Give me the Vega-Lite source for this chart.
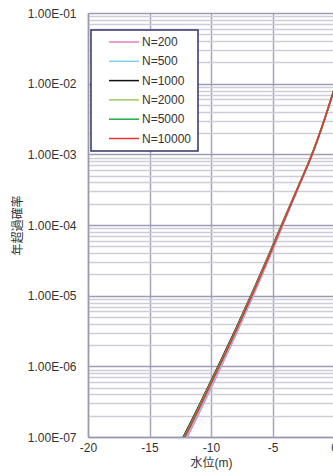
{
  "$schema": "https://vega.github.io/schema/vega-lite/v6.json",
  "width": 246,
  "height": 424,
  "autosize": {"type": "none"},
  "padding": {"left": 88, "top": 13, "right": 0, "bottom": 37},
  "config": {
    "font": "Liberation Sans, Noto Sans CJK JP",
    "view": {"stroke": null},
    "axis": {"labelFont": "Liberation Sans", "labelFontSize": 12, "labelColor": "#333333", "titleFont": "Liberation Sans, Noto Sans CJK JP", "titleFontSize": 12, "titleFontWeight": "normal", "titleColor": "#333333", "domainColor": "#9a9ab2", "domainWidth": 1.5}
  },
  "data": {
    "values": [
      {"N": "N=200", "x": -12.21, "p": 7.94e-8}, {"N": "N=200", "x": -11.92, "p": 1e-7}, {"N": "N=200", "x": -10.52, "p": 3.16e-7}, {"N": "N=200", "x": -9.16, "p": 1e-6}, {"N": "N=200", "x": -7.83, "p": 3.16e-6}, {"N": "N=200", "x": -6.56, "p": 1e-5}, {"N": "N=200", "x": -5.33, "p": 3.16e-5}, {"N": "N=200", "x": -4.15, "p": 1e-4}, {"N": "N=200", "x": -2.95, "p": 3.16e-4}, {"N": "N=200", "x": -1.75, "p": 1e-3}, {"N": "N=200", "x": -0.74, "p": 3.16e-3}, {"N": "N=200", "x": 0.16, "p": 1e-2},
      {"N": "N=500", "x": -12.29, "p": 7.94e-8}, {"N": "N=500", "x": -12.0, "p": 1e-7}, {"N": "N=500", "x": -10.59, "p": 3.16e-7}, {"N": "N=500", "x": -9.22, "p": 1e-6}, {"N": "N=500", "x": -7.89, "p": 3.16e-6}, {"N": "N=500", "x": -6.61, "p": 1e-5}, {"N": "N=500", "x": -5.38, "p": 3.16e-5}, {"N": "N=500", "x": -4.18, "p": 1e-4}, {"N": "N=500", "x": -2.97, "p": 3.16e-4}, {"N": "N=500", "x": -1.76, "p": 1e-3}, {"N": "N=500", "x": -0.75, "p": 3.16e-3}, {"N": "N=500", "x": 0.15, "p": 1e-2},
      {"N": "N=1000", "x": -12.57, "p": 7.94e-8}, {"N": "N=1000", "x": -12.26, "p": 1e-7}, {"N": "N=1000", "x": -10.82, "p": 3.16e-7}, {"N": "N=1000", "x": -9.43, "p": 1e-6}, {"N": "N=1000", "x": -8.07, "p": 3.16e-6}, {"N": "N=1000", "x": -6.76, "p": 1e-5}, {"N": "N=1000", "x": -5.5, "p": 3.16e-5}, {"N": "N=1000", "x": -4.27, "p": 1e-4}, {"N": "N=1000", "x": -3.03, "p": 3.16e-4}, {"N": "N=1000", "x": -1.8, "p": 1e-3}, {"N": "N=1000", "x": -0.77, "p": 3.16e-3}, {"N": "N=1000", "x": 0.15, "p": 1e-2},
      {"N": "N=2000", "x": -12.51, "p": 7.94e-8}, {"N": "N=2000", "x": -12.2, "p": 1e-7}, {"N": "N=2000", "x": -10.77, "p": 3.16e-7}, {"N": "N=2000", "x": -9.38, "p": 1e-6}, {"N": "N=2000", "x": -8.02, "p": 3.16e-6}, {"N": "N=2000", "x": -6.73, "p": 1e-5}, {"N": "N=2000", "x": -5.47, "p": 3.16e-5}, {"N": "N=2000", "x": -4.25, "p": 1e-4}, {"N": "N=2000", "x": -3.02, "p": 3.16e-4}, {"N": "N=2000", "x": -1.79, "p": 1e-3}, {"N": "N=2000", "x": -0.76, "p": 3.16e-3}, {"N": "N=2000", "x": 0.15, "p": 1e-2},
      {"N": "N=5000", "x": -12.46, "p": 7.94e-8}, {"N": "N=5000", "x": -12.16, "p": 1e-7}, {"N": "N=5000", "x": -10.73, "p": 3.16e-7}, {"N": "N=5000", "x": -9.35, "p": 1e-6}, {"N": "N=5000", "x": -7.99, "p": 3.16e-6}, {"N": "N=5000", "x": -6.7, "p": 1e-5}, {"N": "N=5000", "x": -5.44, "p": 3.16e-5}, {"N": "N=5000", "x": -4.23, "p": 1e-4}, {"N": "N=5000", "x": -3.0, "p": 3.16e-4}, {"N": "N=5000", "x": -1.78, "p": 1e-3}, {"N": "N=5000", "x": -0.76, "p": 3.16e-3}, {"N": "N=5000", "x": 0.15, "p": 1e-2},
      {"N": "N=10000", "x": -12.42, "p": 7.94e-8}, {"N": "N=10000", "x": -12.12, "p": 1e-7}, {"N": "N=10000", "x": -10.7, "p": 3.16e-7}, {"N": "N=10000", "x": -9.32, "p": 1e-6}, {"N": "N=10000", "x": -7.97, "p": 3.16e-6}, {"N": "N=10000", "x": -6.68, "p": 1e-5}, {"N": "N=10000", "x": -5.43, "p": 3.16e-5}, {"N": "N=10000", "x": -4.22, "p": 1e-4}, {"N": "N=10000", "x": -3.0, "p": 3.16e-4}, {"N": "N=10000", "x": -1.78, "p": 1e-3}, {"N": "N=10000", "x": -0.76, "p": 3.16e-3}, {"N": "N=10000", "x": 0.15, "p": 1e-2}
    ]
  },
  "mark": {"type": "line", "strokeWidth": 1.5, "clip": true, "interpolate": "monotone"},
  "encoding": {
    "x": {
      "field": "x", "type": "quantitative",
      "scale": {"domain": [-20, 0], "nice": false, "zero": false},
      "axis": {"title": "水位(m)", "values": [-20, -15, -10, -5, 0], "labelExpr": "'' + datum.value", "grid": true, "gridColor": "#a4a4bc", "gridWidth": 1.5, "ticks": false, "labelPadding": 5, "titlePadding": 4, "labelFlush": false}
    },
    "y": {
      "field": "p", "type": "quantitative",
      "scale": {"type": "log", "domain": [1e-7, 0.1], "nice": false},
      "axis": {
        "title": "年超過確率",
        "values": [1e-7, 2e-7, 3e-7, 4e-7, 5e-7, 6e-7, 7e-7, 8e-7, 9e-7, 1e-6, 2e-6, 3e-6, 4e-6, 5e-6, 6e-6, 7e-6, 8e-6, 9e-6, 1e-5, 2e-5, 3e-5, 4e-5, 5e-5, 6e-5, 7e-5, 8e-5, 9e-5, 1e-4, 2e-4, 3e-4, 4e-4, 5e-4, 6e-4, 7e-4, 8e-4, 9e-4, 1e-3, 2e-3, 3e-3, 4e-3, 5e-3, 6e-3, 7e-3, 8e-3, 9e-3, 1e-2, 2e-2, 3e-2, 4e-2, 5e-2, 6e-2, 7e-2, 8e-2, 9e-2, 1e-1],
        "labelExpr": "abs(log(datum.value)/LN10 - round(log(datum.value)/LN10)) < 0.001 ? '1.00E-0' + round(-log(datum.value)/LN10) : ''",
        "labelOverlap": false,
        "labelBound": false,
        "ticks": false,
        "labelPadding": 12,
        "titlePadding": 3,
        "grid": true,
        "gridWidth": 1.5,
        "gridColor": {"condition": {"test": "abs(log(datum.value)/LN10 - round(log(datum.value)/LN10)) < 0.001", "value": "#9c9cb4"}, "value": "#cdcdda"}
      }
    },
    "color": {
      "field": "N", "type": "nominal",
      "scale": {"domain": ["N=200", "N=500", "N=1000", "N=2000", "N=5000", "N=10000"], "range": ["#e87dbb", "#7fd0e8", "#111111", "#99cc55", "#22aa44", "#ee3333"]},
      "legend": {
        "title": null, "orient": "none", "legendX": 3, "legendY": 17,
        "fillColor": "#ffffff", "strokeColor": "#333366",
        "padding": 6, "symbolType": "M -3 0 L 3 0", "symbolSize": 100, "symbolStrokeWidth": 1.5,
        "symbolOffset": 21, "labelOffset": 12, "labelFontSize": 12, "labelFont": "Liberation Sans", "labelColor": "#333333",
        "labelExpr": "datum.label + '\u00a0\u00a0\u00a0'",
        "rowPadding": 7.3, "cornerRadius": 0,
        "encode": {"legend": {"update": {"strokeWidth": {"value": 1.5}}}}
      }
    }
  }
}
